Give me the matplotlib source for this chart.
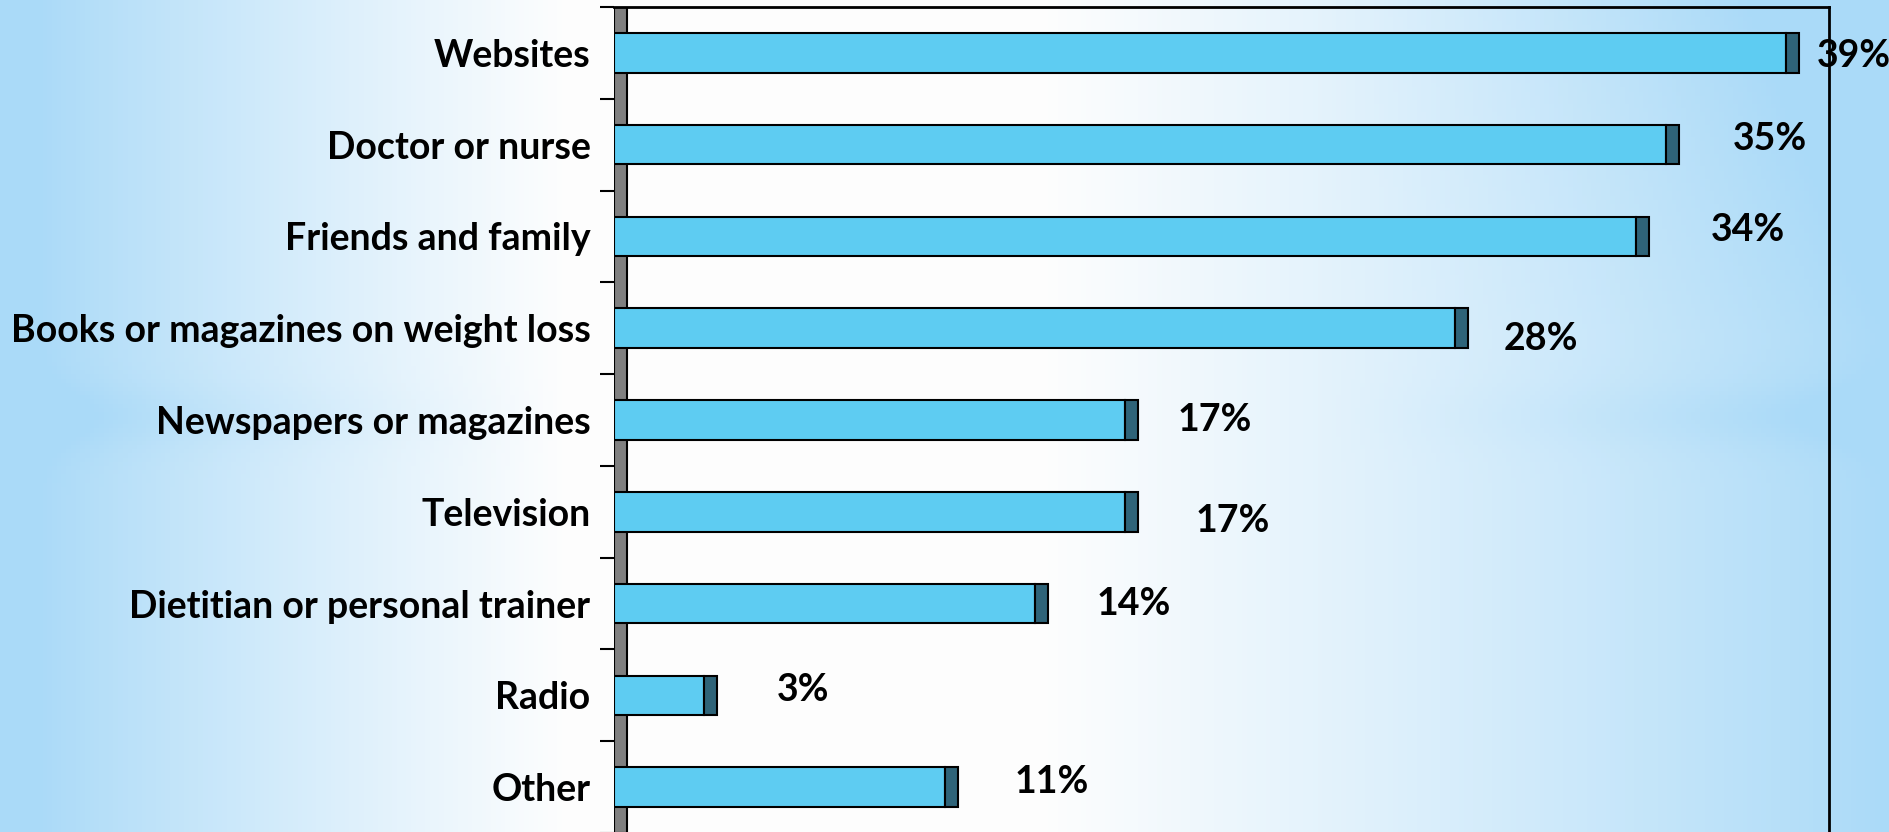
import numpy as np
import matplotlib
matplotlib.use("Agg")
import matplotlib.pyplot as plt

# data
categories = ["Websites", "Doctor or nurse", "Friends and family",
              "Books or magazines on weight loss", "Newspapers or magazines",
              "Television", "Dietitian or personal trainer", "Radio", "Other"]
values = [39, 35, 34, 28, 17, 17, 14, 3, 11]
value_labels = ["39%", "35%", "34%", "28%", "17%", "17%", "14%", "3%", "11%"]

# label nudges (layout only, as in the source slide)
label_dx = [1.03, 2.23, 2.50, 1.60, 1.76, 2.36, 2.06, 2.43, 2.33]
label_dy = [0.0, -0.095, -0.104, 0.084, -0.033, 0.068, -0.027, -0.084, -0.087]

front_color = "#5ECCF2"
side_color = "#2F6479"
wall_color = "#808080"
depth = 0.433          # 3D depth of the bars, in axis units
font = ["Lato", "DejaVu Sans"]

fig = plt.figure(figsize=(18.89, 8.32), dpi=100)

# slide background: light blue at the edges, white towards the middle
bg = fig.add_axes([0, 0, 1, 1], zorder=-10)
xs = np.linspace(0, 1, 400)
ys = np.linspace(0, 1, 200)
X, Y = np.meshgrid(xs, ys)
left_part = np.clip((X - 0.02) / 0.28, 0, 1)
right_part = np.clip((1.0 - X) / 0.45, 0, 1)
white = np.minimum(left_part, right_part) ** 0.9
side = np.clip(np.abs(X - 0.5) - 0.2, 0, 1) / 0.3
band = np.exp(-((Y - 0.50) / 0.04) ** 2) * 0.15 * side
topright = np.clip((X - 0.7) / 0.3, 0, 1) * np.clip(1 - Y / 0.4, 0, 1) * 0.25
w = np.clip(white - band - topright, 0, 1)
blue = np.array([170, 218, 248]) / 255
img = blue[None, None, :] * (1 - w[..., None]) + np.ones(3)[None, None, :] * w[..., None] * 0.995
bg.imshow(img, aspect="auto", extent=[0, 1, 0, 1], origin="upper")
bg.set_axis_off()

ax = fig.add_axes([614 / 1889, -0.0012, (1829 - 614) / 1889, 1 - 7 / 832 + 0.0012])
ax.patch.set_alpha(0)

ypos = np.arange(len(categories))
bar_h = 0.43

# left wall of the 3D chart
ax.axvspan(0, depth, facecolor=wall_color, edgecolor="black", linewidth=1.5, zorder=1)

ax.barh(ypos, values, height=bar_h, color=front_color, edgecolor="black",
        linewidth=1.5, zorder=3)
ax.barh(ypos, [depth] * len(values), left=values, height=bar_h, color=side_color,
        edgecolor="black", linewidth=1.5, zorder=3)

for i, (v, lab) in enumerate(zip(values, value_labels)):
    ax.text(v + label_dx[i], i + label_dy[i] + 0.03, lab, ha="left", va="center",
            fontsize=27, fontweight="bold", family=font, clip_on=False, zorder=10)

ax.set_xlim(0, 40 + depth)
ax.set_ylim(len(categories) - 0.5, -0.5)

ax.set_yticks(ypos)
ax.set_yticklabels(categories, fontsize=27, fontweight="bold", family=font)
ax.set_yticks(np.arange(-0.5, len(categories), 1), minor=True)
ax.tick_params(axis="y", which="major", length=0, pad=17)
ax.tick_params(axis="y", which="minor", length=10, width=1.5, color="black")
ax.set_xticks([])

ax.spines["left"].set_visible(False)
ax.spines["bottom"].set_visible(False)
for s in ["top", "right"]:
    ax.spines[s].set_linewidth(2)
    ax.spines[s].set_color("black")

plt.savefig("out.png", dpi=100)
